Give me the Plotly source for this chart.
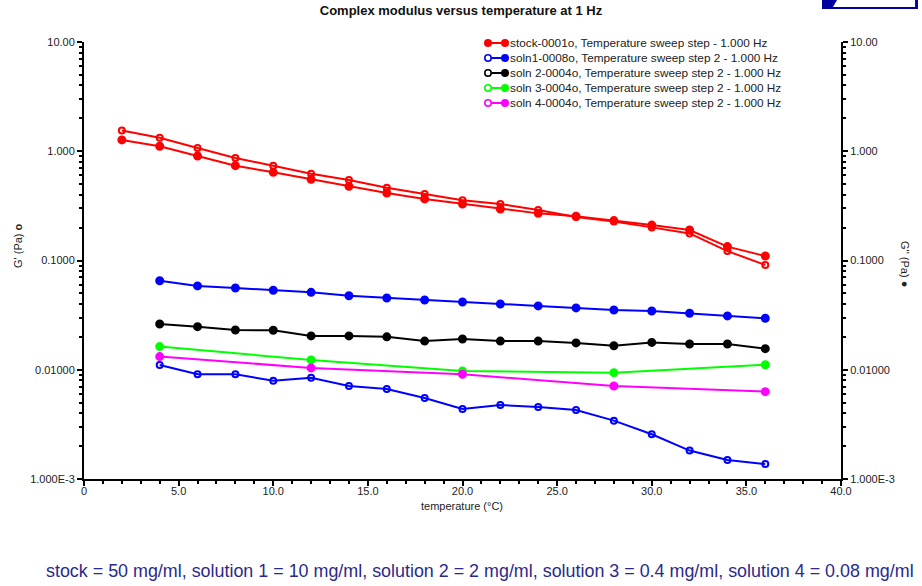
import plotly.graph_objects as go

# Temperatures (°C)
temps_full = [2, 4, 6, 8, 10, 12, 14, 16, 18, 20, 22, 24, 26, 28, 30, 32, 34, 36]
temps_sweep = [4, 6, 8, 10, 12, 14, 16, 18, 20, 22, 24, 26, 28, 30, 32, 34, 36]
temps_coarse = [4, 12, 20, 28, 36]

# stock-0001o: G' (open) and G'' (filled), Pa
stock_gp = [1.55, 1.33, 1.07, 0.867, 0.738, 0.623, 0.546, 0.464, 0.406, 0.356,
            0.329, 0.290, 0.250, 0.228, 0.201, 0.177, 0.122, 0.091]
stock_gpp = [1.27, 1.11, 0.905, 0.738, 0.641, 0.553, 0.477, 0.415, 0.366, 0.329,
             0.296, 0.270, 0.254, 0.232, 0.211, 0.190, 0.134, 0.110]

# soln1-0008o
soln1_gp = [0.01104, 0.00908, 0.00908, 0.00794, 0.00845, 0.00710, 0.00667, 0.00551,
            0.00437, 0.00476, 0.00456, 0.00428, 0.00342, 0.00257, 0.00182, 0.00149, 0.00137]
soln1_gpp = [0.0653, 0.0585, 0.0560, 0.0534, 0.0511, 0.0476, 0.0454, 0.0435, 0.0417,
             0.0400, 0.0384, 0.0368, 0.0352, 0.0345, 0.0329, 0.0311, 0.0296]

# soln 2-0004o (G'')
soln2_gpp = [0.0262, 0.0248, 0.0231, 0.0230, 0.0204, 0.0204, 0.0200, 0.0183, 0.0191,
             0.0183, 0.0183, 0.0176, 0.0166, 0.0178, 0.0172, 0.0172, 0.0156]

# soln 3-0004o and soln 4-0004o (G'')
soln3_gpp = [0.0163, 0.0123, 0.00975, 0.0094, 0.0111]
soln4_gpp = [0.0132, 0.0104, 0.0091, 0.0071, 0.0063]

series_names = [
    "stock-0001o, Temperature sweep step - 1.000 Hz",
    "soln1-0008o, Temperature sweep step 2 - 1.000 Hz",
    "soln 2-0004o, Temperature sweep step 2 - 1.000 Hz",
    "soln 3-0004o, Temperature sweep step 2 - 1.000 Hz",
    "soln 4-0004o, Temperature sweep step 2 - 1.000 Hz",
]
colors = ["#ff0000", "#0000ff", "#000000", "#00ff00", "#ff00ff"]

x_tickvals = [0, 5, 10, 15, 20, 25, 30, 35, 40]
x_ticktext = ["0", "5.0", "10.0", "15.0", "20.0", "25.0", "30.0", "35.0", "40.0"]
y_tickvals = [1e-3, 1e-2, 1e-1, 1, 10]
y_ticktext = ["1.000E-3", "0.01000", "0.1000", "1.000", "10.00"]
y_minor = [m * 10 ** e for e in range(-3, 1) for m in range(2, 10)]

FONT = "Liberation Sans, Arial, sans-serif"
TXT = "#222222"

W, H = 922, 586
ML, MR, MT, MB = 84, 81, 42, 107
PW, PH = W - ML - MR, H - MT - MB


def px_x(px):
    """pixel column -> paper x"""
    return (px - ML) / PW


def px_y(py):
    """pixel row -> paper y"""
    return (H - MB - py) / PH


fig = go.Figure()


def add_line(x, y, color, name, filled):
    fig.add_trace(go.Scatter(
        x=x, y=y, mode="lines+markers", name=name, showlegend=False,
        line=dict(color=color, width=2),
        marker=dict(
            symbol="circle" if filled else "circle-open",
            size=7 if filled else 6,
            color=color,
            line=dict(color=color, width=2),
        ),
    ))


add_line(temps_full, stock_gp, colors[0], series_names[0], False)
add_line(temps_full, stock_gpp, colors[0], series_names[0], True)
add_line(temps_sweep, soln1_gp, colors[1], series_names[1], False)
add_line(temps_sweep, soln1_gpp, colors[1], series_names[1], True)
add_line(temps_sweep, soln2_gpp, colors[2], series_names[2], True)
add_line(temps_coarse, soln3_gpp, colors[3], series_names[3], True)
add_line(temps_coarse, soln4_gpp, colors[4], series_names[4], True)

# invisible trace carrying the right-hand axis
fig.add_trace(go.Scatter(x=[None], y=[None], yaxis="y2", showlegend=False,
                         hoverinfo="skip"))

axis_common = dict(
    showline=True, linecolor="#000000", linewidth=2,
    ticks="outside", tickcolor="#000000", tickwidth=2, ticklen=5,
    showgrid=False, zeroline=False,
    tickfont=dict(family=FONT, size=11, color=TXT),
)
minor_log = dict(tickvals=y_minor, ticks="outside", ticklen=3, tickwidth=1.5,
                 tickcolor="#000000")

fig.update_layout(
    width=W, height=H,
    margin=dict(l=ML, r=MR, t=MT, b=MB),
    paper_bgcolor="#ffffff", plot_bgcolor="#ffffff",
    font=dict(family=FONT, size=11, color=TXT),
    showlegend=False,
    title=dict(
        text="<b>Complex modulus versus temperature at 1 Hz</b>",
        x=0.5, xanchor="center", y=1 - 10 / H, yanchor="middle",
        font=dict(family=FONT, size=13, color="#111111"),
    ),
    xaxis=dict(
        range=[0, 40], tickvals=x_tickvals, ticktext=x_ticktext,
        ticklabelstandoff=-4,
        minor=dict(dtick=1, ticks="outside", ticklen=3, tickwidth=1.5,
                   tickcolor="#000000"),
        **axis_common,
    ),
    yaxis=dict(
        type="log", range=[-3, 1], tickvals=y_tickvals, ticktext=y_ticktext,
        minor=minor_log, **axis_common,
    ),
    yaxis2=dict(
        type="log", range=[-3, 1], tickvals=y_tickvals, ticktext=y_ticktext,
        overlaying="y", side="right", minor=minor_log, **axis_common,
    ),
)

# legend block: sample line with G' (open) and G'' (filled) markers, then label
for i, (name, col) in enumerate(zip(series_names, colors)):
    py = 43 + 15 * i
    yy = px_y(py)
    xa, xb = px_x(488), px_x(505)
    fig.add_shape(type="line", xref="paper", yref="paper",
                  x0=xa, x1=xb, y0=yy, y1=yy,
                  line=dict(color=col, width=2))
    for xc, filled in ((xa, i == 0), (xb, True)):
        fig.add_shape(type="circle", xref="paper", yref="paper",
                      xsizemode="pixel", ysizemode="pixel",
                      xanchor=xc, yanchor=yy, x0=-3.2, x1=3.2, y0=-3.2, y1=3.2,
                      fillcolor=col if filled else "#ffffff",
                      line=dict(color=col, width=1.6))
    fig.add_annotation(text=name, xref="paper", yref="paper",
                       x=px_x(508), y=yy, xanchor="left", yanchor="middle",
                       showarrow=False,
                       font=dict(family=FONT, size=11.8, color=TXT))

# axis titles and footnote
fig.add_annotation(text="temperature (°C)", xref="paper", yref="paper",
                   x=px_x(462), y=px_y(506), xanchor="center", yanchor="middle",
                   showarrow=False, font=dict(family=FONT, size=11, color=TXT))
fig.add_annotation(text="G' (Pa) <b>o</b>", xref="paper", yref="paper",
                   x=px_x(18), y=px_y(246), xanchor="center", yanchor="middle",
                   textangle=-90, showarrow=False,
                   font=dict(family=FONT, size=11, color=TXT))
fig.add_annotation(text="G'' (Pa) ●", xref="paper", yref="paper",
                   x=px_x(905), y=px_y(264), xanchor="center", yanchor="middle",
                   textangle=90, showarrow=False,
                   font=dict(family=FONT, size=11, color=TXT))
fig.add_annotation(
    text="stock = 50 mg/ml, solution 1 = 10 mg/ml, solution 2 = 2 mg/ml, "
         "solution 3 = 0.4 mg/ml, solution 4 = 0.08 mg/ml",
    xref="paper", yref="paper", x=px_x(480), y=px_y(571),
    xanchor="center", yanchor="middle", showarrow=False,
    font=dict(family=FONT, size=17.9, color="#2a2a8c"),
)

# small toolbar badge in the top-right corner
fig.add_shape(type="rect", xref="paper", yref="paper",
              x0=px_x(822), x1=px_x(918), y0=px_y(9), y1=px_y(0),
              fillcolor="#0000a0", line=dict(width=0), layer="above")
fig.add_shape(type="path", xref="paper", yref="paper",
              path=(f"M {px_x(837):.4f},{px_y(0):.4f} L {px_x(915):.4f},{px_y(0):.4f} "
                    f"L {px_x(915):.4f},{px_y(7):.4f} L {px_x(833):.4f},{px_y(7):.4f} Z"),
              fillcolor="#ffffff", line=dict(width=0), layer="above")

fig.write_html("out.html")
